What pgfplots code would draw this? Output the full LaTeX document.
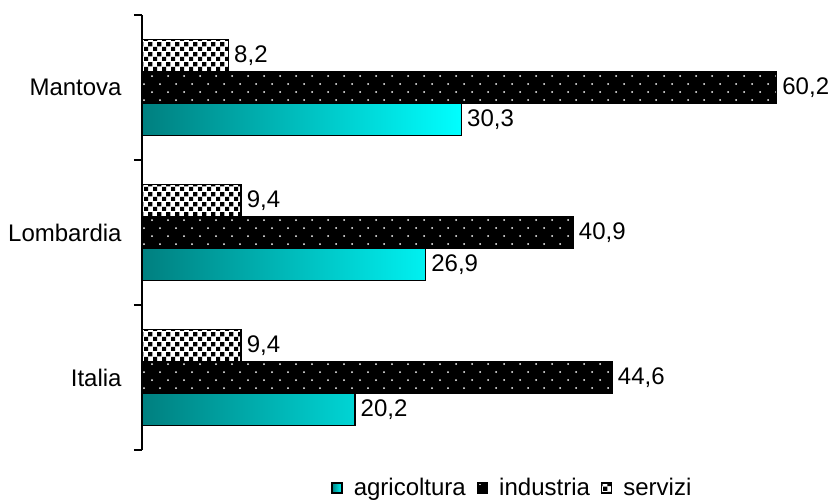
\documentclass[border=0pt]{standalone}
\usepackage{fontspec}
\setmainfont{Liberation Sans}
\usepackage{pgfplots}
\pgfplotsset{compat=1.18}
\usetikzlibrary{patterns.meta}

% white dots on black for "industria"
\pgfdeclarepattern{
  name=indDots, type=uncolored,
  bottom left={\pgfpoint{-1pt}{-1pt}},
  top right={\pgfpoint{7pt}{7pt}},
  tile size={\pgfpoint{8pt}{8pt}},
  code={
    \pgfpathcircle{\pgfpoint{0pt}{0pt}}{0.5pt}
    \pgfpathcircle{\pgfpoint{4pt}{4pt}}{0.5pt}
    \pgfusepath{fill}
  }
}
% small staggered squares for "servizi"
\pgfdeclarepattern{
  name=servChecks, type=uncolored,
  bottom left={\pgfpoint{0pt}{0pt}},
  top right={\pgfpoint{4.5pt}{5pt}},
  tile size={\pgfpoint{4.5pt}{5pt}},
  code={
    \pgfpathrectangle{\pgfpoint{0pt}{0pt}}{\pgfpoint{2.3pt}{2.3pt}}
    \pgfpathrectangle{\pgfpoint{2.25pt}{2.5pt}}{\pgfpoint{2.3pt}{2.3pt}}
    \pgfusepath{fill}
  }
}

\pgfplotsset{
  sqlegend/.style={legend image code/.code={
    \draw[##1, line width=0.7pt] (0pt,-2.5pt) rectangle (5pt,2.5pt);}},
  hbar/.style={xbar, bar width=16pt, bar shift=0pt, point meta=x,
    draw=black, line width=0.8pt, sqlegend},
}

% categories at y = 0 (Italia), 1 (Lombardia), 2 (Mantova);
% the three series sit 16pt below, on, and 16pt above each category
% (one category step is 72.5pt, so 16pt = 0.2207 units)
\begin{document}
\begin{tikzpicture}[font=\fontsize{12}{14.4}\selectfont]
\begin{axis}[
  at={(0,0)}, anchor=south west,
  scale only axis, width=342.6pt, height=217.5pt,
  xmin=0, xmax=65, ymin=-0.5, ymax=2.5,
  hide x axis,
  axis y line*=left,
  y axis line style={-, line width=0.6pt, black},
  ytick={0,1,2}, yticklabels={Italia,Lombardia,Mantova},
  major tick length=0pt,
  minor ytick={-0.5,0.5,1.5,2.5},
  minor tick length=4pt,
  tick align=outside,
  minor tick style={line width=0.6pt, black},
  yticklabel style={inner sep=0pt, xshift=-10pt},
  clip=false,
  legend columns=-1,
  legend style={draw=none, fill=none, at={(0.2758,-0.0874)}, anchor=west,
    inner sep=0pt, column sep=5.5pt, nodes={inner sep=0pt}},
  nodes near coords={\pgfmathprintnumber[fixed, fixed zerofill, precision=1,
    use comma, assume math mode=true]{\pgfplotspointmeta}},
  every node near coord/.append style={anchor=west, inner sep=0pt, xshift=2.5pt, black},
]
\addplot[hbar, left color=teal, right color=cyan]
  coordinates {(20.2,-0.2207) (26.9,0.7793) (30.3,1.7793)};
\addplot[hbar, fill=black,
  postaction={pattern=indDots, pattern color=white}]
  coordinates {(44.6,0) (40.9,1) (60.2,2)};
\addplot[hbar, fill=white,
  postaction={pattern=servChecks, pattern color=black}]
  coordinates {(9.4,0.2207) (9.4,1.2207) (8.2,2.2207)};
\legend{agricoltura,industria,servizi}
\end{axis}
\pgfresetboundingbox
\path[use as bounding box] (-71pt,-25pt) rectangle (345.5pt,225pt);
\end{tikzpicture}
\end{document}
